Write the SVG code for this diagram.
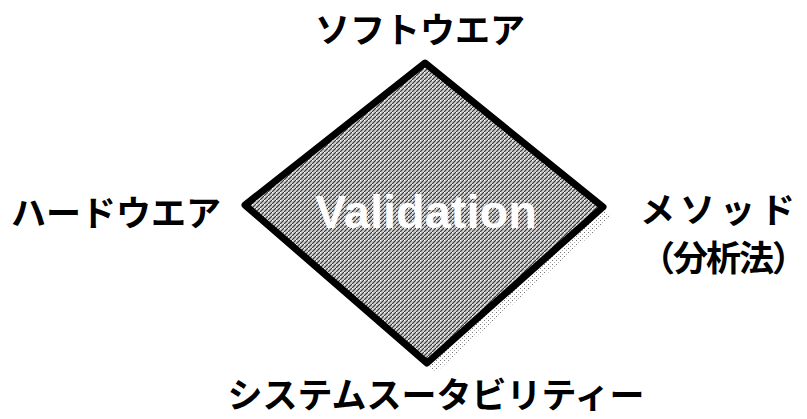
<svg xmlns="http://www.w3.org/2000/svg" width="807" height="419" viewBox="0 0 807 419">
<defs>
<pattern id="hatch" width="4" height="4" patternUnits="userSpaceOnUse">
<rect width="4" height="4" fill="#cfcfcf"/>
<path d="M0,4 L4,0" stroke="#333" stroke-width="1.1"/>
<rect x="0" y="0" width="1" height="1" fill="#fff"/>
</pattern>
<pattern id="dots" width="4" height="4" patternUnits="userSpaceOnUse">
<rect x="0" y="0" width="1" height="1" fill="#777"/>
<rect x="2" y="2" width="1" height="1" fill="#aaa"/>
</pattern>
</defs>
<style>
.lbl{font-family:"Noto Sans CJK JP","Noto Sans",sans-serif;font-weight:bold;font-size:35px;fill:#000}
.val{font-family:"Liberation Sans",Arial,sans-serif;font-weight:bold;font-size:47px;fill:#fff}
</style>
<g id="diamond">
<polygon points="434,72 612,216 436,372 254,214" fill="url(#dots)"/>
<polygon points="425,63 603,207 427,363 245,205" fill="url(#hatch)" stroke="#000" stroke-width="7" stroke-linejoin="round"/>
<text class="val" x="426" y="228" text-anchor="middle">Validation</text>
</g>
<g id="software"><text class="lbl" x="420" y="43" text-anchor="middle">ソフトウエア</text></g>
<g id="hardware"><text class="lbl" x="116" y="226" text-anchor="middle">ハードウエア</text></g>
<g id="method">
<text class="lbl" x="720" y="223" text-anchor="middle" letter-spacing="5">メソッド</text>
<text class="lbl" x="640" y="271" letter-spacing="-2">（分析法）</text>
</g>
<g id="system"><text class="lbl" x="436" y="408" text-anchor="middle">システムスータビリティー</text></g>
<g id="connectors"></g>
</svg>
